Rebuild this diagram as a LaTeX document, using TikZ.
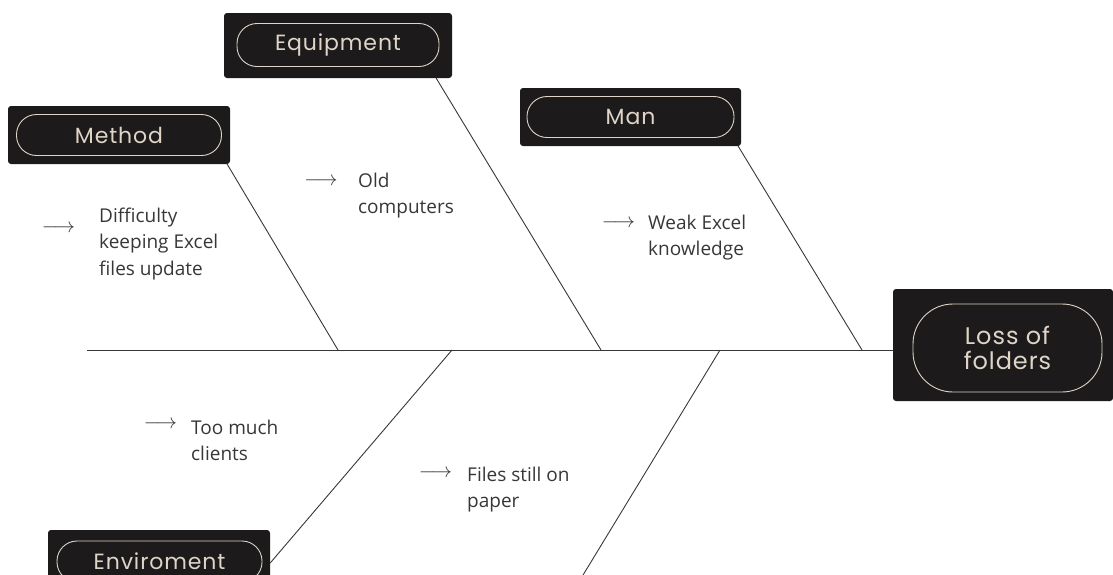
\documentclass[tikz,border=0pt]{standalone}
\usepackage{fontspec}
\usepackage{amsmath}
\setmainfont{Open Sans}
\newfontfamily\labelfont[LetterSpace=4]{Poppins}
\usetikzlibrary{positioning}
\definecolor{board}{RGB}{28, 26, 26}
\definecolor{sand}{RGB}{222, 212, 200}
\definecolor{ink}{RGB}{55, 55, 55}

\tikzset{
  catbox/.style={fill=board, rounded corners=3pt, inner sep=0pt},
  pill/.style={draw=sand, line width=0.9pt, rounded corners=20pt, inner sep=0pt,
    text=sand, font=\labelfont\fontsize{22}{26}\selectfont},
  bone/.style={draw=ink, line width=0.9pt},
  cause/.style={text=ink, align=left, inner sep=0pt, anchor=base west,
    font=\fontsize{19}{26.5}\selectfont},
  pointer/.style={text=ink, inner sep=0pt, anchor=base, font=\fontsize{20}{24}\selectfont}
}

\begin{document}
\begin{tikzpicture}[x=1pt, y=-1pt]
  \useasboundingbox (0,0) rectangle (1113,574);
  \clip (0,0) rectangle (1113,574);

  % effect head
  \node[catbox, minimum width=220, minimum height=112] (head) at (1003,345) {};
  \node[pill, minimum width=189, minimum height=88, rounded corners=40pt,
    align=center, font=\labelfont\fontsize{24}{25}\selectfont] (effect) at (1007.5,348) {Loss of\\folders};

  % category boxes
  \node[catbox, minimum width=222, minimum height=58] (method) at (119,135) {};
  \node[pill, minimum width=205, minimum height=41] (methodlbl) at (method) {Method};
  \node[catbox, minimum width=228, minimum height=65] (equip) at (338,45.5) {};
  \node[pill, minimum width=202, minimum height=43] (equiplbl) at (338,45) {Equipment};
  \node[catbox, minimum width=221, minimum height=58] (man) at (630.5,117) {};
  \node[pill, minimum width=207, minimum height=41] (manlbl) at (man) {Man};
  \node[catbox, minimum width=222, minimum height=58] (envir) at (159,559) {};
  \node[pill, minimum width=205, minimum height=41] (envirlbl) at (159.5,561.5) {Enviroment};

  % spine and bones
  \coordinate (tail) at (87,350);
  \coordinate (m1) at (338,350);
  \coordinate (m2) at (601,350);
  \coordinate (m3) at (862,350);
  \coordinate (n1) at (452,350);
  \coordinate (n2) at (720,350);
  \coordinate (low) at (580,580);
  \draw[bone] (tail) -- (tail -| head.west);
  \draw[bone] ([xshift=-3]method.south east) -- (m1);
  \draw[bone] ([xshift=-16]equip.south east) -- (m2);
  \draw[bone] ([xshift=-3]man.south east) -- (m3);
  \draw[bone] ([yshift=-4]envir.east) -- (n1);
  \draw[bone] (n2) -- (low);

  % causes (base is the last line)
  \node[pointer] (p1) at (58.5,232) {$\longrightarrow$};
  \node[cause] (c1) at (99,275) {Difficulty\\keeping Excel\\files update};
  \node[pointer] (p2) at (321,185) {$\longrightarrow$};
  \node[cause] (c2) at (358,213.5) {Old\\computers};
  \node[pointer] (p3) at (618.5,227) {$\longrightarrow$};
  \node[cause] (c3) at (648,255.5) {Weak Excel\\knowledge};
  \node[pointer] (p4) at (160.5,428) {$\longrightarrow$};
  \node[cause] (c4) at (191,460.5) {Too much\\clients};
  \node[pointer] (p5) at (435.5,477) {$\longrightarrow$};
  \node[cause] (c5) at (467,507.5) {Files still on\\paper};
\end{tikzpicture}
\end{document}
